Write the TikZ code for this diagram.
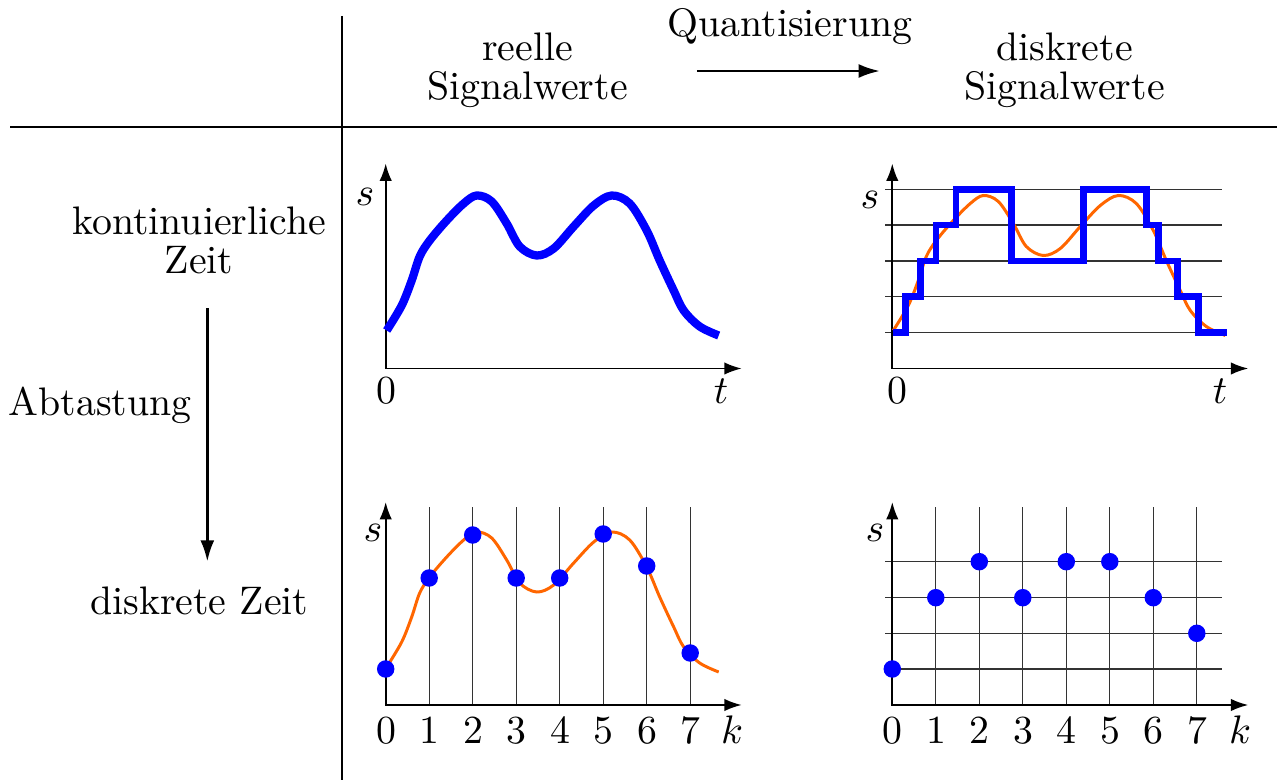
\RequirePackage{fix-cm}
\documentclass[tikz,border=0pt]{standalone}
\usetikzlibrary{arrows.meta}
\definecolor{sigblue}{RGB}{0,0,255}
\definecolor{sigorange}{RGB}{255,102,0}
\tikzset{
  lbl/.style={font=\fontsize{10.3}{10.16}\selectfont, inner sep=0pt, anchor=base, transform shape},
  hdr/.style={lbl, align=center},
  axis/.style={line width=1.1pt, {Latex[length=0.35cm,width=0.25cm]}-{Latex[length=0.35cm,width=0.25cm]}},
  gridline/.style={line width=0.7pt, black!80},
  frameline/.style={line width=1pt},
  procarrow/.style={line width=1.7pt, -{Latex[length=0.43cm,width=0.28cm]}},
  thicksig/.style={sigblue, line width=4.7pt, line join=round},
  stair/.style={sigblue, line width=3.8pt, line join=miter},
  thinsig/.style={sigorange, line width=1.7pt},
  dot/.style={circle, fill=sigblue, inner sep=0pt, minimum size=0.35cm},
}
\begin{document}
\begin{tikzpicture}[scale=2.2, x=0.0090909cm, y=-0.0090909cm]
\useasboundingbox (0,0) rectangle (1281,780);
% table rules
\draw[frameline] (342.3,16) -- (342.3,780);
\draw[frameline] (10,126.7) -- (1276.7,126.7);
% headers
\node[hdr] (hreal) at (527.5,100) {reelle\\Signalwerte};
\node[hdr] (hdisc) at (1064.5,100) {diskrete\\Signalwerte};
\node[lbl] (hquant) at (790,36.7) {Quantisierung};
\coordinate (qa) at (696.7,71);
\coordinate (qb) at (880,71);
\draw[procarrow] (qa) -- (qb);
\node[hdr] (hcont) at (199.2,274) {kontinuierliche\\Zeit};
\node[lbl] (habt) at (100,416) {Abtastung};
\node[lbl] (hdz) at (199.2,615) {diskrete Zeit};
\coordinate (aa) at (207.3,308.3);
\coordinate (ab) at (207.3,561.7);
\draw[procarrow] (aa) -- (ab);

% ---------- top left ----------
\begin{scope}[shift={(385.7,368.5)}, yscale=-1]
  \coordinate (o1) at (0,0); \coordinate (y1) at (0,205); \coordinate (x1) at (356,0);
  \draw[axis] (y1) -- (o1) -- (x1);
  \draw[thicksig] plot[smooth, tension=0.55] coordinates {(1,38) (16,63) (26,88) (34,112) (44,128) (61,148) (78,165) (91,173) (106,167) (121,145) (134,122) (151,113) (168,120) (188,142) (208,163) (226,173) (244,165) (261,138) (274,108) (288,78) (298,58) (314,42) (333,33)};
\end{scope}
\node[lbl] (s1) at (365,206) {$s$};
\node[lbl] (z1) at (386,404) {0};
\node[lbl] (t1) at (721,404) {$t$};

% ---------- top right ----------
\begin{scope}[shift={(892.3,368.5)}, yscale=-1]
  \foreach \h in {36,71.8,107.6,143.4,179.2}
    \draw[gridline] (-7.3,\h) -- (329.4,\h);
  \coordinate (o2) at (0,0); \coordinate (y2) at (0,205); \coordinate (x2) at (356,0);
  \draw[axis] (y2) -- (o2) -- (x2);
  \draw[thinsig] plot[smooth, tension=0.55] coordinates {(1,38) (16,63) (26,88) (34,112) (44,128) (61,148) (78,165) (91,173) (106,167) (121,145) (134,122) (151,113) (168,120) (188,142) (208,163) (226,173) (244,165) (261,138) (274,108) (288,78) (298,58) (314,42) (333,33)};
  \draw[stair] (1,36) -| (13,71.8) -| (28,107.6) -| (43.7,143.4) -| (63.7,179.2) -| (119.4,107.6) -| (191,179.2) -| (254.4,143.4) -| (266,107.6) -| (285.4,71.8) -| (306,36) -- (334.4,36);
\end{scope}
\node[lbl] (s2) at (870,209) {$s$};
\node[lbl] (z2) at (897,404) {0};
\node[lbl] (t2) at (1220,404) {$t$};

% ---------- bottom left ----------
\begin{scope}[shift={(385.7,705)}, yscale=-1]
  \foreach \k in {1,...,7}
    \draw[gridline] (\k*43.5,0) -- (\k*43.5,198.3);
  \coordinate (o3) at (0,0); \coordinate (y3) at (0,203); \coordinate (x3) at (356,0);
  \draw[axis] (y3) -- (o3) -- (x3);
  \draw[thinsig] plot[smooth, tension=0.55] coordinates {(1,38) (16,63) (26,88) (34,112) (44,128) (61,148) (78,165) (91,173) (106,167) (121,145) (134,122) (151,113) (168,120) (188,142) (208,163) (226,173) (244,165) (261,138) (274,108) (288,78) (298,58) (314,42) (333,33)};
  \node[dot] (b0) at (0,36) {};
  \node[dot] (b1) at (43.5,127) {};
  \node[dot] (b2) at (87,170) {};
  \node[dot] (b3) at (130.5,127) {};
  \node[dot] (b4) at (174,127) {};
  \node[dot] (b5) at (217.5,171) {};
  \node[dot] (b6) at (261,139) {};
  \node[dot] (b7) at (304.5,52) {};
\end{scope}
\node[lbl] (s3) at (373,542) {$s$};
\foreach \k in {0,...,7}
  \node[lbl] (n3\k) at (386+\k*43.5,744) {\k};
\node[lbl] (k3) at (732,744) {$k$};

% ---------- bottom right ----------
\begin{scope}[shift={(892.3,705)}, yscale=-1]
  \foreach \h in {36,71.7,107.3,143.3}
    \draw[gridline] (-7.3,\h) -- (329.4,\h);
  \foreach \k in {1,...,7}
    \draw[gridline] (\k*43.5,0) -- (\k*43.5,198.3);
  \coordinate (o4) at (0,0); \coordinate (y4) at (0,203); \coordinate (x4) at (356,0);
  \draw[axis] (y4) -- (o4) -- (x4);
  \node[dot] (q0) at (0,36) {};
  \node[dot] (q1) at (43.5,107.3) {};
  \node[dot] (q2) at (87,143.3) {};
  \node[dot] (q3) at (130.5,107.3) {};
  \node[dot] (q4) at (174,143.3) {};
  \node[dot] (q5) at (217.5,143.3) {};
  \node[dot] (q6) at (261,107.3) {};
  \node[dot] (q7) at (304.5,71.7) {};
\end{scope}
\node[lbl] (s4) at (875,542) {$s$};
\foreach \k in {0,...,7}
  \node[lbl] (n4\k) at (892.7+\k*43.5,744) {\k};
\node[lbl] (k4) at (1240,744) {$k$};
\end{tikzpicture}
\end{document}
